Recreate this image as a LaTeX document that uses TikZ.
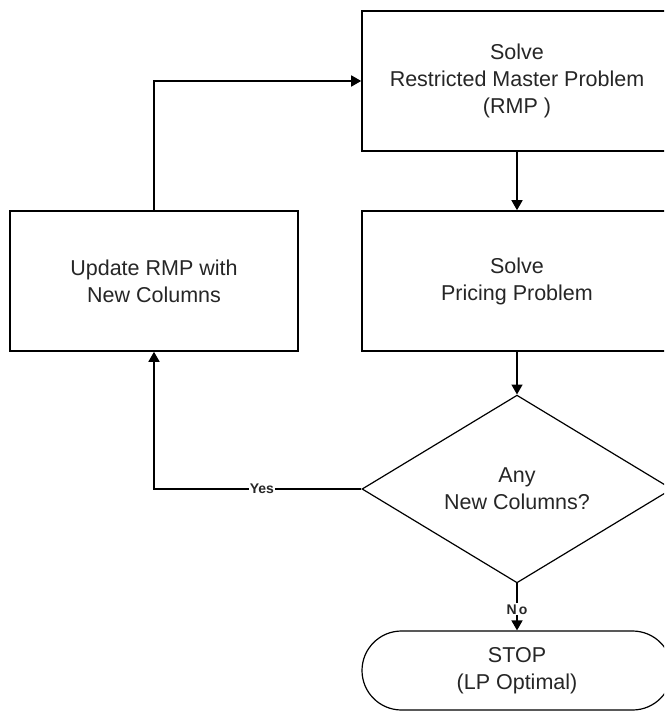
\documentclass[tikz,border=0pt]{standalone}
\usepackage{fontspec}
\setmainfont{Liberation Sans}
\usetikzlibrary{shapes.geometric,shapes.misc,arrows.meta}
\begin{document}
\begin{tikzpicture}[x=1pt,y=-1pt,
  every node/.style={font=\fontsize{21.5}{27}\selectfont, align=center, text=black!85},
  process/.style={draw, line width=1.6pt, rectangle, minimum height=140pt, inner sep=0pt},
  decision/.style={draw, line width=1.2pt, diamond, minimum width=310pt, minimum height=158pt, inner sep=0pt},
  terminal/.style={draw, line width=1.2pt, rounded rectangle, minimum width=310pt, minimum height=79pt, inner sep=0pt},
  flow/.style={line width=1.6pt, -{Triangle[length=10pt,width=11pt]}},
  tag/.style={font=\fontsize{14}{14}\selectfont\bfseries, fill=white, inner sep=1pt}]
  \useasboundingbox (0,0) rectangle (664,711);
  \clip (0,0) rectangle (664,711);
  \fill[white] (0,0) rectangle (664,711);

  % blocks of the column generation loop
  \node[process, minimum width=310pt] (rmp) at (517,81)
    {Solve\\Restricted Master Problem\\(RMP )};
  \node[process, minimum width=310pt] (price) at (517,281)
    {Solve\\Pricing Problem};
  \node[process, minimum width=288pt] (upd) at (154,281)
    {Update RMP with\\New Columns};
  \node[decision] (dec) at (517,489) {Any\\New Columns?};
  \node[terminal] (stop) at (517,670.5) {STOP\\(LP Optimal)};

  % connectors
  \draw[flow] (rmp.south) -- (price.north);
  \draw[flow] (price.south) -- (dec.north);
  \draw[flow] (dec.west) -| node[tag, pos=0.24] {Yes} (upd.south);
  \draw[flow] (upd.north) |- (rmp.west);
  \draw[flow] (dec.south) -- node[tag, pos=0.55] {N\,o} (stop.north);
\end{tikzpicture}
\end{document}
